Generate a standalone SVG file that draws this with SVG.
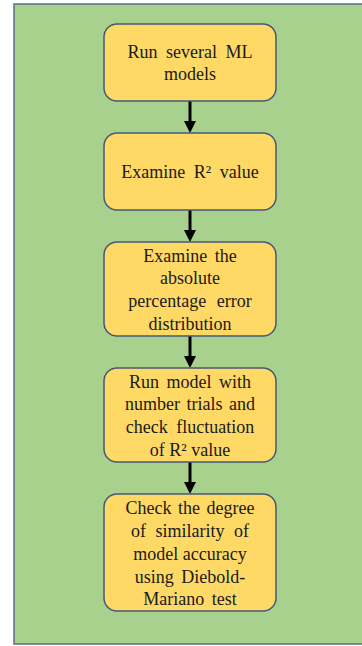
<svg xmlns="http://www.w3.org/2000/svg" width="362" height="646" viewBox="0 0 362 646">
<style>
.box{fill:#ffd966;stroke:#45587a;stroke-width:1.5}
.t{font-family:"Liberation Serif","Times New Roman",serif;font-size:18px;fill:#1a1a1a;text-anchor:middle}
.c{stroke:#000;stroke-width:3;fill:none}
.h{fill:#000}
</style>
<rect x="0" y="0" width="362" height="646" fill="#ffffff"/>
<rect id="panel" x="14" y="4" width="360" height="640" fill="#a9d18e" stroke="#5b6d8a" stroke-width="1.5"/>
<g id="connectors">
<line class="c" x1="190" y1="101" x2="190" y2="124"/><polygon class="h" points="184,121 196,121 190,133"/>
<line class="c" x1="190" y1="210" x2="190" y2="233"/><polygon class="h" points="184,230 196,230 190,242"/>
<line class="c" x1="190" y1="336" x2="190" y2="359"/><polygon class="h" points="184,356 196,356 190,368"/>
<line class="c" x1="190" y1="462" x2="190" y2="485"/><polygon class="h" points="184,482 196,482 190,494"/>
</g>
<g id="n1"><rect class="box" x="104" y="24" width="172" height="77" rx="13"/>
<text class="t" x="190" y="58" word-spacing="4">Run several ML</text><text class="t" x="190" y="80">models</text></g>
<g id="n2"><rect class="box" x="104" y="133" width="172" height="77" rx="13"/>
<text class="t" x="190" y="178" word-spacing="4">Examine R² value</text></g>
<g id="n3"><rect class="box" x="104" y="242" width="172" height="94" rx="13"/>
<text class="t" x="190" y="261.5" word-spacing="3">Examine the</text><text class="t" x="190" y="284">absolute</text><text class="t" x="190" y="307" word-spacing="6">percentage error</text><text class="t" x="190" y="330">distribution</text></g>
<g id="n4"><rect class="box" x="104" y="368" width="172" height="94" rx="13"/>
<text class="t" x="190" y="387.5" word-spacing="3">Run model with</text><text class="t" x="190" y="410" word-spacing="2">number trials and</text><text class="t" x="190" y="432.5" word-spacing="4">check fluctuation</text><text class="t" x="190" y="455.5">of R² value</text></g>
<g id="n5"><rect class="box" x="104" y="494" width="172" height="117" rx="13"/>
<text class="t" x="190" y="514" word-spacing="2">Check the degree</text><text class="t" x="190" y="537" word-spacing="5">of similarity of</text><text class="t" x="190" y="560">model accuracy</text><text class="t" x="190" y="582.5" word-spacing="3">using Diebold-</text><text class="t" x="190" y="605" word-spacing="3">Mariano test</text></g>
</svg>
